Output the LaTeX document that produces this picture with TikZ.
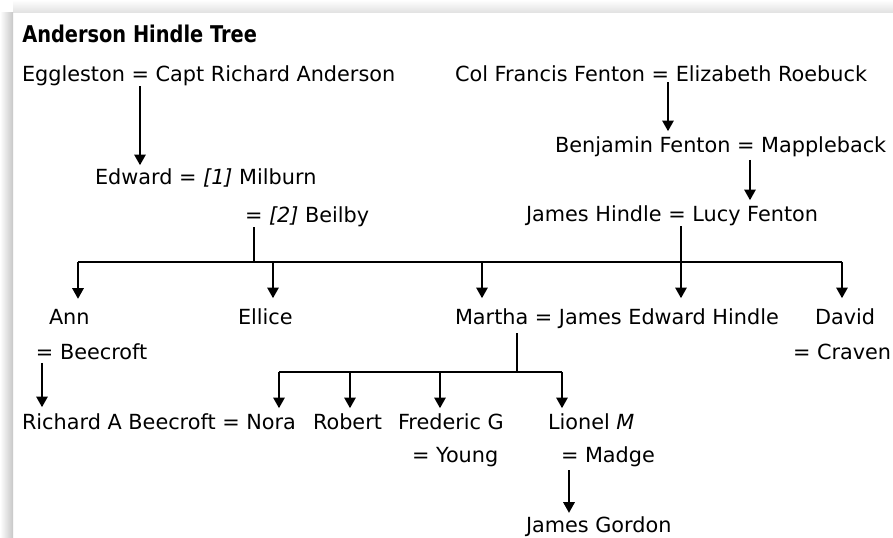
\documentclass[tikz,border=0pt]{standalone}
\usepackage{fontspec}
\setmainfont{DejaVu Sans}
\newfontfamily\titlefont{DejaVu Sans Bold}[FakeStretch=0.84]
\usetikzlibrary{arrows.meta,calc}
\tikzset{
  person/.style={anchor=base west,inner sep=0pt,outer sep=0pt,font=\fontsize{15.6pt}{18pt}\selectfont},
  titletext/.style={anchor=base west,inner sep=0pt,font=\titlefont\fontsize{17.3pt}{21pt}\selectfont},
  link/.style={line width=1.5pt,black},
  arr/.style={link,-{Triangle[width=8.5pt,length=8pt]}},
}
\begin{document}
\begin{tikzpicture}[x=0.75pt,y=-0.75pt]
\useasboundingbox (0,0) rectangle (893,538);
\fill[white] (0,0) rectangle (893,538);
% shadow
\shade[top color=white,bottom color=black!12] (13,0) rectangle (893,13);
\shade[left color=white,right color=black!22] (0,13) rectangle (13,538);

% texts
\node[titletext] (title) at (22,43) {Anderson Hindle Tree};
\node[person] (eg) at (22,82) {Eggleston = Capt Richard Anderson};
\node[person] (cf) at (455,82) {Col Francis Fenton = Elizabeth Roebuck};
\node[person] (bf) at (555,153) {Benjamin Fenton = Mappleback};
\node[person] (ed) at (95,185) {Edward = \textit{[1]} Milburn};
\node[person] (be) at (245,223) {= \textit{[2]} Beilby};
\node[person] (jh) at (526,222) {James Hindle = Lucy Fenton};
\node[person] (ann) at (49,325) {Ann};
\node[person] (ell) at (238,325) {Ellice};
\node[person] (mar) at (455,325) {Martha = James Edward Hindle};
\node[person] (dav) at (815,325) {David};
\node[person] (annb) at (36,360) {= Beecroft};
\node[person] (davc) at (793,360) {= Craven};
\node[person] (rich) at (22,429) {Richard A Beecroft = Nora};
\node[person] (rob) at (313,429) {Robert};
\node[person] (fred) at (398,429) {Frederic G};
\node[person] (lio) at (548,429) {Lionel \textit{M}};
\node[person] (young) at (412,462) {= Young};
\node[person] (madge) at (561,462) {= Madge};
\node[person] (jg) at (526,532) {James Gordon};

% connector columns
\coordinate (xeg) at (140,0);
\coordinate (xcf) at (668,0);
\coordinate (xbf) at (750,0);
\coordinate (xbe) at (254,262);
\coordinate (xann) at (78,262);
\coordinate (xell) at (273,262);
\coordinate (xmar) at (482,262);
\coordinate (xjh) at (681,262);
\coordinate (xdav) at (842,262);
\coordinate (xm2) at (517,372);
\coordinate (xnora) at (279,372);
\coordinate (xrob) at (350,372);
\coordinate (xfred) at (440,372);
\coordinate (xlio) at (562,372);
\coordinate (xab) at (42,0);
\coordinate (xmd) at (569,0);

% generation arrows
\draw[arr,shorten >=3pt] (eg.south -| xeg) -- (ed.north -| xeg);
\draw[arr,shorten >=4.5pt] (cf.south -| xcf) -- (bf.north -| xcf);
\draw[arr,shorten >=4.5pt] ([yshift=-2pt]bf.south -| xbf) -- (jh.north -| xbf);

% Edward's children
\draw[link] (be.south -| xbe) -- (xbe);
\draw[link] (xann) -- (xdav);
\draw[arr,shorten >=8.25pt] (xann) -- (ann.north -| xann);
\draw[arr,shorten >=8.25pt] (xell) -- (ell.north -| xell);
\draw[arr,shorten >=8.25pt] (xmar) -- (mar.north -| xmar);
\draw[arr,shorten >=8.25pt] (xdav) -- (dav.north -| xdav);
\draw[arr,shorten >=8.25pt] (jh.south -| xjh) -- (mar.north -| xjh);

% Martha's children
\draw[link] ([yshift=-3pt]mar.south -| xm2) -- (xm2);
\draw[link] (xnora) -- (xlio);
\draw[arr,shorten >=3.75pt] (xnora) -- (rich.north -| xnora);
\draw[arr,shorten >=3.75pt] (xrob) -- (rob.north -| xrob);
\draw[arr,shorten >=3.75pt] (xfred) -- (fred.north -| xfred);
\draw[arr,shorten >=3.75pt] (xlio) -- (lio.north -| xlio);

% other descents
\draw[arr,shorten >=4.5pt] ([yshift=-2pt]annb.south -| xab) -- (rich.north -| xab);
\draw[arr,shorten >=2.5pt] ([yshift=-3pt]madge.south -| xmd) -- (jg.north -| xmd);
\end{tikzpicture}
\end{document}
